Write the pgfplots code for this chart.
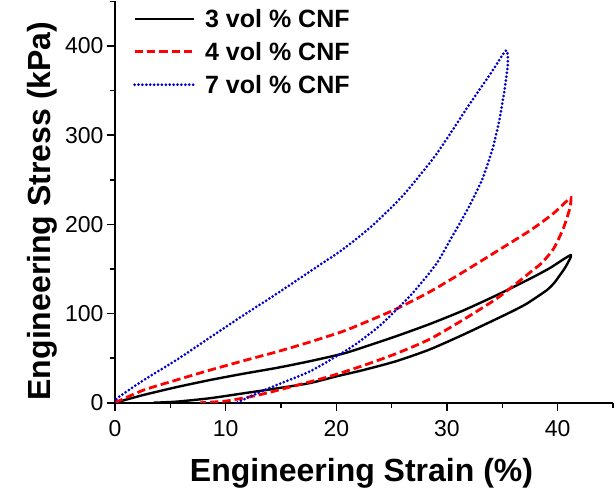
\documentclass[border=0pt]{standalone}
\usepackage{fontspec}
\setmainfont{Liberation Sans}
\usepackage{pgfplots}
\pgfplotsset{compat=1.18}
\definecolor{cnfblue}{RGB}{0,0,205}
\definecolor{cnfred}{RGB}{255,0,0}

\begin{document}
\begin{tikzpicture}
\useasboundingbox (-115pt,-88.3pt) rectangle (500pt,402.7pt);
\begin{axis}[
    at={(0pt,0pt)}, anchor=south west,
    scale only axis,
    width=498pt, height=401.4pt,
    xmin=0, xmax=45, ymin=0, ymax=450,
    axis x line*=bottom, axis y line*=left,
    axis line style={line width=2pt, -},
    xtick={0,10,20,30,40}, ytick={0,100,200,300,400},
    minor xtick={5,15,25,35,45}, minor ytick={50,150,250,350,450},
    tick align=outside,
    major tick length=8pt, minor tick length=5pt,
    tick style={line width=1.6pt, black},
    /pgf/number format/assume math mode=true,
    ticklabel style={font=\fontsize{23}{23}\selectfont},
    xticklabel style={yshift=-6pt},
    xlabel={Engineering Strain (\%)},
    ylabel={Engineering Stress (kPa)},
    xlabel style={at={(axis description cs:0.495,-0.1968)}, anchor=base,
        font=\bfseries\fontsize{32}{32}\selectfont},
    ylabel style={at={(axis description cs:-0.1305,0.4776)}, anchor=base,
        font=\bfseries\fontsize{32}{32}\selectfont},
    legend cell align=left,
    legend image code/.code={\draw[#1] (0pt,0pt) -- (59pt,0pt); \path (69pt,0pt);},
    legend style={draw=none, fill=none, inner sep=0pt,
        at={(axis description cs:0.036,0.979)}, anchor=north west,
        font=\bfseries\fontsize{25}{25}\selectfont,
        row sep=15pt,
        nodes={inner sep=0pt, text height=17.9pt, text depth=0pt}},
]
% 3 vol% CNF: loading branch, then unloading branch
\addplot[black, line width=2.4pt, line join=round, smooth, tension=0.4] coordinates {
(0,0) (2.55,8.6) (5.57,17.5) (8.57,25.4) (11.6,32.5) (14.6,39) (17.6,46.5)
(20.6,55) (22.4,62) (25.4,74.5) (28.4,88) (31.4,103) (34.4,120)
(37.5,139) (39.3,151) (41.2,165.6)
(40.7,152) (40.2,143) (39.7,134.5) (39.0,126) (37.2,111) (35.9,102.5) (34.4,93.5)
(31.4,75.9) (28.4,59.5) (25.4,46.5) (22.4,36.5) (20.0,29.5) (17.6,22)
(14.6,16) (11.6,10.5) (8.57,5) (5.57,1.2) (3.5,0)
};
\addlegendentry{3 vol \% CNF}
% 4 vol% CNF
\addplot[cnfred, line width=2.8pt, dash pattern=on 8.3pt off 4pt, smooth, tension=0.4] coordinates {
(0,0) (2.55,14) (5.57,25.5) (8.57,36.5) (11.6,47) (14.6,57) (17.6,68)
(20.6,80) (22.4,89) (25.4,105) (28.4,124) (31.4,146) (34.4,169)
(37.5,193) (39.5,211) (40.9,227) (41.2,230)
(41.1,218) (40.5,195) (39.6,172) (38.5,156) (37.5,146) (36.2,133)
(34.4,116) (31.4,92.5) (28.4,71) (25.4,55) (22.4,41.5) (19.4,29.5)
(16.1,18.5) (13.1,9) (10.1,2) (7.7,0)
};
\addlegendentry{4 vol \% CNF}
% 7 vol% CNF
\addplot[cnfblue, line width=3pt, line cap=round, dash pattern=on 0pt off 3.9pt, smooth, tension=0.4] coordinates {
(0,0) (0.2,5) (2.55,25) (5.57,48) (8.57,73) (11.6,98) (14.6,122)
(17.6,147) (20.6,172) (23.2,198) (26.0,232) (29.0,278) (32.0,334)
(34.1,372) (35.35,395)
(35.5,380) (35.2,351) (34.7,315) (34.1,284) (33.2,251) (32.0,220)
(30.5,187) (29.0,155) (26.9,123) (25.4,104) (23.9,86) (21.8,66)
(20.0,52) (17.6,35) (14.6,19.8) (12.5,8.6) (11,0)
};
\addlegendentry{7 vol \% CNF}
\end{axis}
\end{tikzpicture}
\end{document}
